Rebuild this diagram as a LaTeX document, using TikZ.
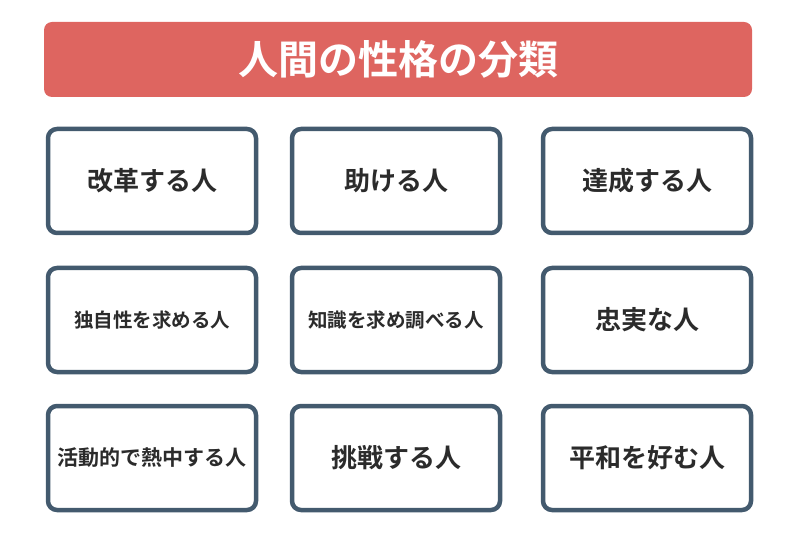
\documentclass[tikz,border=0pt]{standalone}
\usepackage{fontspec}
\setmainfont{Noto Sans CJK JP}[BoldFont={Noto Sans CJK JP Bold}]
\definecolor{hdr}{HTML}{DE6560}
\definecolor{bord}{HTML}{435A6E}
\definecolor{txt}{HTML}{2B2B2B}
\tikzset{
  cell/.style={draw=bord,line width=4.5pt,rounded corners=9pt,fill=white,minimum width=208pt,minimum height=104pt,inner sep=0pt,text=txt,font=\bfseries\fontsize{26}{30}\selectfont},
  small/.style={font=\bfseries\fontsize{19.5}{22}\selectfont}
}
\begin{document}
\begin{tikzpicture}[x=1pt,y=-1pt]
\useasboundingbox (0,0) rectangle (800,534);
\node[fill=hdr,rounded corners=8pt,minimum width=708pt,minimum height=75pt,inner sep=0pt,text=white,font=\bfseries\fontsize{40}{44}\selectfont] (title) at (398,59.5) {人間の性格の分類};
\node[cell] (a1) at (152,181) {改革する人};
\node[cell] (a2) at (396,181) {助ける人};
\node[cell] (a3) at (647,181) {達成する人};
\node[cell,small] (b1) at (152,320) {独自性を求める人};
\node[cell,small] (b2) at (396,320) {知識を求め調べる人};
\node[cell] (b3) at (647,320) {忠実な人};
\node[cell,font=\bfseries\fontsize{21}{24}\selectfont] (c1) at (152,458) {活動的で熱中する人};
\node[cell] (c2) at (396,458) {挑戦する人};
\node[cell] (c3) at (647,458) {平和を好む人};
\end{tikzpicture}
\end{document}
